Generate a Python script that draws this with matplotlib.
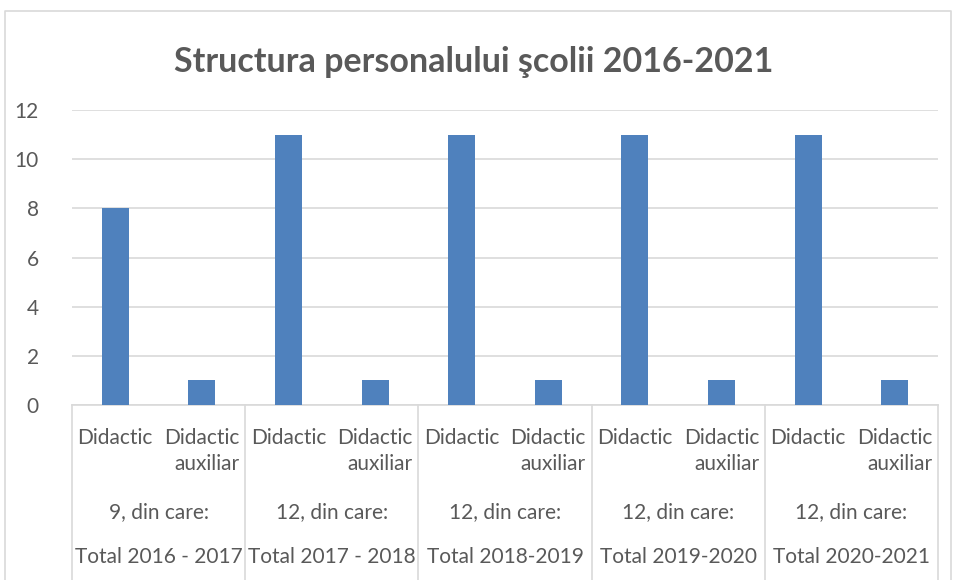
import numpy as np
import matplotlib
matplotlib.use("Agg")
import matplotlib.pyplot as plt
from matplotlib.transforms import blended_transform_factory
from matplotlib.lines import Line2D

# data
years = ["Total 2016 - 2017", "Total 2017 - 2018", "Total 2018-2019",
         "Total 2019-2020", "Total 2020-2021"]
totals = ["9, din care:", "12, din care:", "12, din care:", "12, din care:", "12, din care:"]
kinds = ["Didactic", "Didactic\nauxiliar"]
didactic = [8, 11, 11, 11, 11]
auxiliar = [1, 1, 1, 1, 1]

values = []
for d, a in zip(didactic, auxiliar):
    values += [d, a]
x = np.arange(len(values))

grey = "#595959"
line_c = "#d9d9d9"
plt.rcParams["font.family"] = ["Lato", "DejaVu Sans"]

W, H = 954, 580
fig = plt.figure(figsize=(W / 100, H / 100), dpi=100)
ax = fig.add_axes([72 / W, 1 - 405 / H, (938 - 72) / W, (405 - 110) / H])

ax.bar(x, values, width=0.31, color="#4f81bd", zorder=3)
ax.set_xlim(-0.5, len(values) - 0.5)
ax.set_ylim(0, 12)
ax.set_yticks(range(0, 13, 2))
ax.yaxis.grid(True, color=line_c, linewidth=1.2)
ax.set_axisbelow(True)
for s in ["top", "right", "left"]:
    ax.spines[s].set_visible(False)
ax.spines["bottom"].set_color(line_c)
ax.spines["bottom"].set_linewidth(1.2)
ax.tick_params(axis="y", length=0, pad=24, labelsize=15, labelcolor=grey)
ax.tick_params(axis="x", length=0, labelbottom=False)

# multi-level category labels
tr = blended_transform_factory(ax.transData, fig.transFigure)
for i in range(len(years)):
    for j, k in enumerate(kinds):
        ax.text(2 * i + j, 1 - 428 / H, k, transform=tr, ha="center", va="top",
                multialignment="right", fontsize=15, color=grey, linespacing=1.35)
    ax.text(2 * i + 0.5, 1 - 512 / H, totals[i], transform=tr, ha="center",
            va="center", fontsize=15, color=grey)
    ax.text(2 * i + 0.5, 1 - 557 / H, years[i], transform=tr, ha="center",
            va="center", fontsize=15, color=grey)

for b in np.arange(-0.5, len(values), 2):
    ax.add_line(Line2D([b, b], [1 - 405 / H, 0], transform=tr, color=line_c,
                       linewidth=1.2, clip_on=False))

# chart border
fig.add_artist(Line2D([5 / W, 5 / W, 951 / W, 951 / W], [0, 1 - 11 / H, 1 - 11 / H, 0],
                      transform=fig.transFigure, color=line_c, linewidth=1.2))

fig.text(474 / W, 1 - 62 / H, "Structura personalului şcolii 2016-2021",
         ha="center", va="center", fontsize=24.5, fontweight="bold", color=grey)

fig.savefig("out.png", dpi=100)
